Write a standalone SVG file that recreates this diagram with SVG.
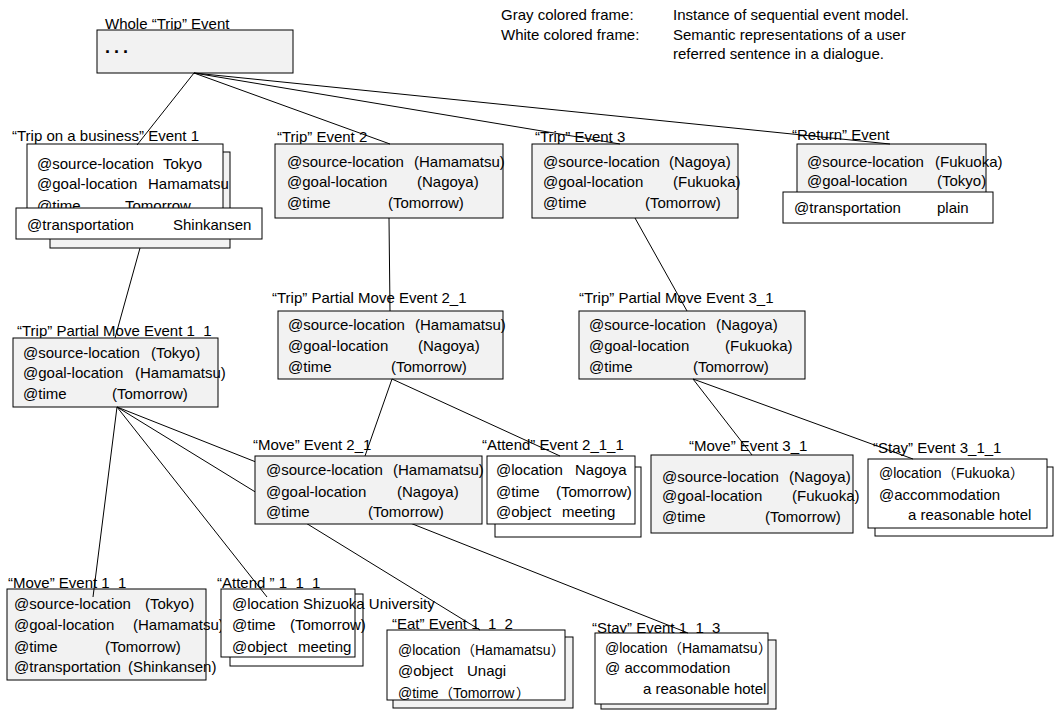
<svg xmlns="http://www.w3.org/2000/svg" width="1054" height="715" viewBox="0 0 1054 715">
<style>
.g{fill:#f2f2f2;stroke:#000;stroke-width:1}
.w{fill:#fff;stroke:#000;stroke-width:1}
.s{fill:#f2f2f2;stroke:#000;stroke-width:1}
text{font-family:"Liberation Sans","Noto Sans CJK JP",sans-serif;font-size:15px;fill:#000}
text.fw{font-size:14px}
.c line{stroke:#000;stroke-width:1}
</style>
<rect width="1054" height="715" fill="#fff"/>

<g id="legend">
<text x="501" y="20">Gray colored frame:</text>
<text x="501" y="40">White colored frame:</text>
<text x="673" y="20">Instance of sequential event model.</text>
<text x="673" y="40">Semantic representations of a user</text>
<text x="673" y="59">referred sentence in a dialogue.</text>
</g>

<g id="whole">
<text x="105" y="29">Whole “Trip” Event</text>
<rect class="g" x="97" y="30" width="196" height="43"/>
<text x="105" y="53" style="font-size:18px;font-weight:bold;letter-spacing:4px">...</text>
</g>

<g id="event1">
<text x="12" y="141">“Trip on a business” Event 1</text>
<rect class="s" x="50" y="152" width="180" height="96"/>
<rect class="w" x="27" y="144" width="196" height="70"/>
<text x="37" y="169">@source-location</text><text x="163" y="169">Tokyo</text>
<text x="37" y="189">@goal-location</text><text x="148" y="189">Hamamatsu</text>
<text x="37" y="211">@time</text><text x="125" y="211">Tomorrow</text>
<rect class="w" x="16" y="208" width="246" height="31"/>
<text x="27" y="230">@transportation</text><text x="173" y="230">Shinkansen</text>
</g>

<g id="event2">
<text x="277" y="142">“Trip” Event 2</text>
<rect class="g" x="275" y="144" width="228" height="74"/>
<text x="287" y="167">@source-location</text><text x="414" y="167">(Hamamatsu)</text>
<text x="287" y="187">@goal-location</text><text x="417" y="187">(Nagoya)</text>
<text x="287" y="208">@time</text><text x="388" y="208">(Tomorrow)</text>
</g>

<g id="event3">
<text x="535" y="142">“Trip” Event 3</text>
<rect class="g" x="532" y="144" width="206" height="74"/>
<text x="543" y="167">@source-location</text><text x="669" y="167">(Nagoya)</text>
<text x="543" y="187">@goal-location</text><text x="673" y="187">(Fukuoka)</text>
<text x="543" y="208">@time</text><text x="645" y="208">(Tomorrow)</text>
</g>

<g id="return">
<text x="792" y="140">“Return” Event</text>
<rect class="g" x="797" y="144" width="189" height="55"/>
<text x="807" y="167">@source-location</text><text x="935" y="167">(Fukuoka)</text>
<text x="807" y="186">@goal-location</text><text x="937" y="186">(Tokyo)</text>
<rect class="w" x="783" y="192" width="210" height="31"/>
<text x="794" y="213">@transportation</text><text x="937" y="213">plain</text>
</g>

<g id="partial1_1">
<text x="17" y="336">“Trip” Partial Move Event 1_1</text>
<rect class="g" x="13" y="338" width="205" height="69"/>
<text x="23" y="358">@source-location</text><text x="151" y="358">(Tokyo)</text>
<text x="23" y="378">@goal-location</text><text x="135" y="378">(Hamamatsu)</text>
<text x="23" y="399">@time</text><text x="112" y="399">(Tomorrow)</text>
</g>

<g id="partial2_1">
<text x="272" y="303">“Trip” Partial Move Event 2_1</text>
<rect class="g" x="278" y="311" width="225" height="68"/>
<text x="288" y="330">@source-location</text><text x="415" y="330">(Hamamatsu)</text>
<text x="288" y="351">@goal-location</text><text x="418" y="351">(Nagoya)</text>
<text x="288" y="372">@time</text><text x="391" y="372">(Tomorrow)</text>
</g>

<g id="partial3_1">
<text x="579" y="303">“Trip” Partial Move Event 3_1</text>
<rect class="g" x="579" y="311" width="226" height="68"/>
<text x="589" y="330">@source-location</text><text x="716" y="330">(Nagoya)</text>
<text x="589" y="351">@goal-location</text><text x="725" y="351">(Fukuoka)</text>
<text x="589" y="372">@time</text><text x="693" y="372">(Tomorrow)</text>
</g>

<g id="attend2_1_1">
<text x="482" y="450">“Attend” Event 2_1_1</text>
<rect class="w" x="495" y="467" width="146" height="70"/>
<rect class="w" x="487" y="456" width="148" height="68"/>
<text x="496" y="475">@location</text><text x="575" y="475">Nagoya</text>
<text x="496" y="497">@time</text><text x="556" y="497">(Tomorrow)</text>
<text x="496" y="517">@object</text><text x="562" y="517">meeting</text>
</g>

<g id="move3_1">
<text x="689" y="451">“Move” Event 3_1</text>
<rect class="g" x="651" y="455" width="202" height="78"/>
<text x="662" y="482">@source-location</text><text x="789" y="482">(Nagoya)</text>
<text x="662" y="501">@goal-location</text><text x="792" y="501">(Fukuoka)</text>
<text x="662" y="522">@time</text><text x="765" y="522">(Tomorrow)</text>
</g>

<g id="stay3_1_1">
<text x="873" y="453">“Stay” Event 3_1_1</text>
<rect class="w" x="875" y="467" width="178" height="69"/>
<rect class="w" x="868" y="459" width="179" height="69"/>
<text class="fw" y="478"><tspan x="879">@location</tspan><tspan x="942">（</tspan><tspan x="956">Fukuoka</tspan><tspan x="1010">）</tspan></text>
<text x="879" y="500">@accommodation</text>
<text x="908" y="520">a reasonable hotel</text>
</g>

<g id="move1_1">
<text x="8" y="588">“Move” Event 1_1</text>
<rect class="g" x="7" y="589" width="199" height="91"/>
<text x="14" y="609">@source-location</text><text x="145" y="609">(Tokyo)</text>
<text x="14" y="630">@goal-location</text><text x="133" y="630">(Hamamatsu)</text>
<text x="14" y="652">@time</text><text x="105" y="652">(Tomorrow)</text>
<text x="14" y="672">@transportation</text><text x="128" y="672">(Shinkansen)</text>
</g>

<g id="attend1_1_1">
<text x="217" y="588">“Attend ” 1_1_1</text>
<rect class="w" x="230" y="594" width="133" height="72"/>
<rect class="w" x="221" y="589" width="134" height="68"/>
<text x="232" y="609">@location</text><text x="303" y="609">Shizuoka University</text>
<text x="232" y="630">@time</text><text x="290" y="630">(Tomorrow)</text>
<text x="232" y="652">@object</text><text x="298" y="652">meeting</text>
</g>

<g id="eat1_1_2">
<text x="392" y="629">“Eat” Event 1_1_2</text>
<rect class="s" x="393" y="637" width="180" height="71"/>
<rect class="w" x="387" y="630" width="178" height="70"/>
<text class="fw" y="655"><tspan x="398">@location</tspan><tspan x="461">（</tspan><tspan x="475">Hamamatsu</tspan><tspan x="551">）</tspan></text>
<text x="398" y="676">@object</text><text x="467" y="676">Unagi</text>
<text class="fw" y="698"><tspan x="398">@time</tspan><tspan x="439">（</tspan><tspan x="453">Tomorrow</tspan><tspan x="516">）</tspan></text>
</g>

<g id="stay1_1_3">
<text x="592" y="633">“Stay” Event 1_1_3</text>
<rect class="s" x="601" y="640" width="175" height="69"/>
<rect class="w" x="595" y="633" width="173" height="71"/>
<text class="fw" y="653"><tspan x="605">@location</tspan><tspan x="668">（</tspan><tspan x="682">Hamamatsu</tspan><tspan x="758">）</tspan></text>
<text x="605" y="673">@ accommodation</text>
<text x="643" y="694">a reasonable hotel</text>
</g>

<g id="connectors" class="c">
<line x1="194" y1="73" x2="137" y2="145"/>
<line x1="194" y1="73" x2="390" y2="144"/>
<line x1="194" y1="73" x2="620" y2="144"/>
<line x1="194" y1="73" x2="890" y2="144"/>
<line x1="140" y1="248" x2="115" y2="338"/>
<line x1="389" y1="218" x2="390" y2="311"/>
<line x1="635" y1="218" x2="687" y2="311"/>
<line x1="117" y1="407" x2="93" y2="597"/>
<line x1="117" y1="407" x2="267" y2="597"/>
<line x1="117" y1="407" x2="480" y2="630"/>
<line x1="117" y1="407" x2="688" y2="633"/>
<line x1="392" y1="379" x2="365" y2="456"/>
<line x1="392" y1="379" x2="560" y2="456"/>
<line x1="693" y1="379" x2="752" y2="455"/>
<line x1="693" y1="379" x2="913" y2="459"/>
</g>

<g id="move2_1">
<text x="253" y="450">“Move” Event 2_1</text>
<rect class="g" x="255" y="456" width="227" height="68"/>
<text x="266" y="475">@source-location</text><text x="393" y="475">(Hamamatsu)</text>
<text x="266" y="497">@goal-location</text><text x="397" y="497">(Nagoya)</text>
<text x="266" y="517">@time</text><text x="368" y="517">(Tomorrow)</text>
</g>
</svg>
